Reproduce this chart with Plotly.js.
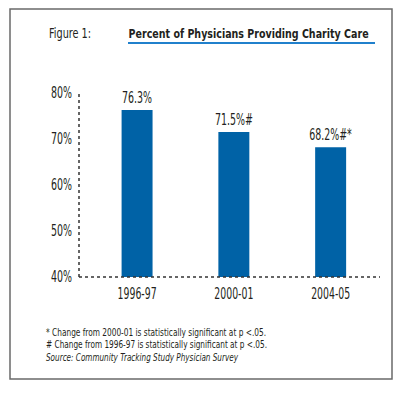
<!DOCTYPE html>
<html>
<head>
<meta charset="utf-8">
<script src="https://cdn.plot.ly/plotly-3.0.1.min.js"></script>
<style>html,body{margin:0;padding:0;background:#fff;}#chart{width:400px;height:394px;}</style>
</head>
<body>
<div id="chart"></div>
<script>
// Data
const categories = ["1996-97", "2000-01", "2004-05"];
const values = [76.3, 71.5, 68.2];
const valueLabels = ["76.3%", "71.5%#", "68.2%#*"];
const yTickValues = [40, 50, 60, 70, 80];
const yTickLabels = ["40%", "50%", "60%", "70%", "80%"];
const figureLabel = "Figure 1:";
const chartTitle = "Percent of Physicians Providing Charity Care";
const footnotes = [
  "* Change from 2000-01 is statistically significant at p <.05.",
  "# Change from 1996-97 is statistically significant at p <.05."
];
const sourceNote = "Source: Community Tracking Study Physician Survey";

const FONT = "'DejaVu Sans Condensed', 'DejaVu Sans', sans-serif";
const TXT = "#231f20";
const BAR = "#0062a6";

// plot area in pixels
const L = 79, R = 20, T = 93, B = 117;
const W = 400, H = 394;
const pw = W - L - R, ph = H - T - B;
const px = x => (x - L) / pw;
const py = y => (H - B - y) / ph;

const trace = {
  type: "bar",
  x: categories,
  y: values,
  text: valueLabels,
  textposition: "outside",
  constraintext: "none",
  cliponaxis: false,
  textfont: {family: FONT, size: 15, color: TXT},
  marker: {color: BAR, line: {width: 0}},
  width: 0.32,
  hoverinfo: "skip"
};

// annotation text + target rendered width (px) to emulate the condensed typeface
const annoSpecs = [
  {x: 47, y: 33, anchor: "left", text: figureLabel, size: 14, w: 42},
  {x: 248, y: 33, anchor: "center", text: "<b>" + chartTitle + "</b>", size: 13, w: 240},
  {x: 44, y: 332, anchor: "left", text: footnotes[0], size: 11, w: 220},
  {x: 44, y: 344.5, anchor: "left", text: footnotes[1], size: 11, w: 221},
  {x: 44, y: 357.5, anchor: "left", text: "<i>" + sourceNote + "</i>", size: 11, w: 192}
];

const annotations = annoSpecs.map(a => ({
  xref: "paper", yref: "paper", x: px(a.x), y: py(a.y), xanchor: a.anchor, yanchor: "middle",
  align: a.anchor, borderpad: 1,
  text: a.text, showarrow: false, font: {family: FONT, size: a.size, color: TXT}
}));

const shapes = [
  {type: "rect", xref: "paper", yref: "paper", x0: px(10), x1: px(392), y0: py(379), y1: py(9),
   line: {color: "#6a6a6a", width: 1.5}, layer: "below"},
  {type: "line", xref: "paper", yref: "paper", x0: px(128), x1: px(375), y0: py(43), y1: py(43),
   line: {color: "#2080cc", width: 2}},
  {type: "line", xref: "paper", yref: "paper", x0: 0, x1: 0, y0: 0, y1: 1.005,
   line: {color: "#333333", width: 1.5, dash: "dot"}},
  {type: "line", xref: "paper", yref: "paper", x0: 0, x1: 1, y0: 0, y1: 0,
   line: {color: "#333333", width: 1.5, dash: "dot"}}
];

const layout = {
  width: W, height: H,
  margin: {l: L, r: R, t: T, b: B, pad: 0},
  paper_bgcolor: "#ffffff",
  plot_bgcolor: "#ffffff",
  showlegend: false,
  xaxis: {
    type: "category",
    range: [-0.6, 2.51],
    showgrid: false, zeroline: false, showline: false, ticks: "",
    tickfont: {family: FONT, size: 16, color: TXT},
    ticklabelstandoff: 5,
    fixedrange: true
  },
  yaxis: {
    range: [40, 80],
    tickvals: yTickValues,
    ticktext: yTickLabels,
    showgrid: false, zeroline: false, showline: false, ticks: "",
    tickfont: {family: FONT, size: 15, color: TXT},
    ticklabelstandoff: 6,
    fixedrange: true
  },
  annotations: annotations,
  shapes: shapes
};

function squeezeBy(el, f) {
  const cur = el.getComputedTextLength();
  if (cur > 0) {
    el.setAttribute("textLength", cur * f);
    el.setAttribute("lengthAdjust", "spacingAndGlyphs");
  }
}
function squeezeTo(el, target) {
  const cur = el.getComputedTextLength();
  if (cur > 0) squeezeBy(el, target / cur);
}
// condense a group of texts so its first item reaches the given width
function condenseGroup(nodes, refWidth) {
  if (!nodes.length) return;
  const f = refWidth / nodes[0].getComputedTextLength();
  nodes.forEach(n => squeezeBy(n, f));
}

Plotly.newPlot("chart", [trace], layout, {displayModeBar: false, staticPlot: true}).then(gd => {
  gd.querySelectorAll("g.annotation").forEach(g => {
    const idx = +g.getAttribute("data-index");
    const t = g.querySelector("text.annotation-text");
    if (t && annoSpecs[idx]) squeezeTo(t, annoSpecs[idx].w);
  });
  condenseGroup(Array.from(gd.querySelectorAll(".xtick text")), 39);
  const yt = Array.from(gd.querySelectorAll(".ytick text"));
  yt.sort((a, b) => a.textContent.localeCompare(b.textContent));
  condenseGroup(yt, 21);
  condenseGroup(Array.from(gd.querySelectorAll("text.bartext")), 30);
});
</script>
</body>
</html>
